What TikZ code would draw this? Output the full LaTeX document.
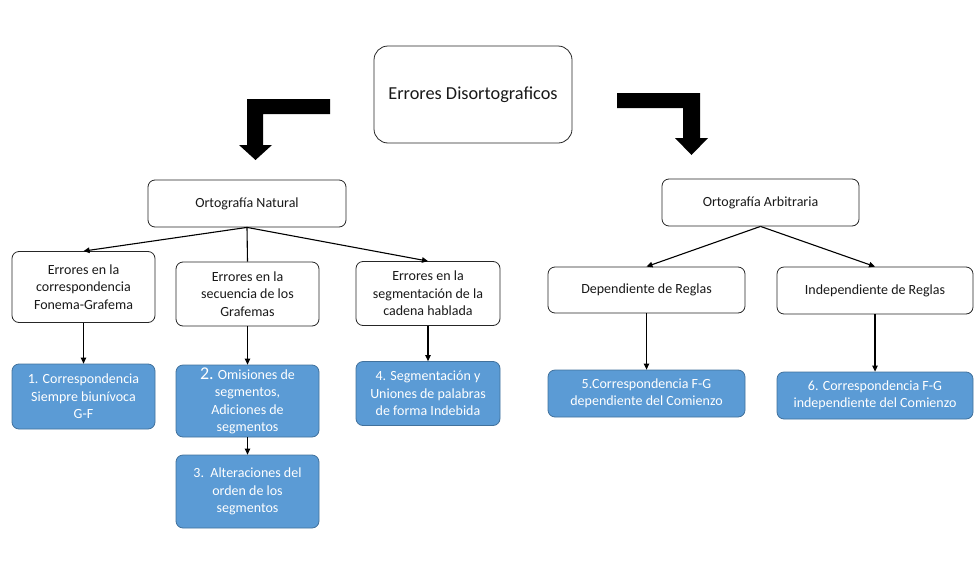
\documentclass[tikz,border=0pt]{standalone}
\usepackage{fontspec}
\setmainfont{Carlito}
\usetikzlibrary{arrows.meta}
\definecolor{boxblue}{HTML}{5B9BD5}
\definecolor{boxbord}{HTML}{41719C}
\tikzset{
  wbox/.style={draw=black!85, line width=0.8pt, fill=white, rounded corners=7pt, align=center, inner sep=2pt,
     font=\fontsize{14}{17.5}\selectfont, text=black!90},
  bbox/.style={draw=boxbord, line width=0.8pt, fill=boxblue, rounded corners=7pt, align=center, inner sep=2pt,
     font=\fontsize{14}{17.5}\selectfont, text=white},
  conn/.style={line width=1.1pt, -{Triangle[length=6pt,width=5.5pt]}},
  plain/.style={line width=1.1pt},
  bigarrow/.style={fill=black, draw=none}
}
\begin{document}
\begin{tikzpicture}[x=1pt,y=-1pt]
\useasboundingbox (0,0) rectangle (974,565);
% top
\node[wbox, rounded corners=14pt, minimum width=198pt, minimum height=97pt, font=\fontsize{18.3}{20}\selectfont] (top) at (473,94.5) {Errores Disortograficos};
% big bent arrows
\fill[bigarrow] (330,99) -- (247,99) -- (247,145) -- (239,145) -- (255.5,160) -- (272,145) -- (263,145) -- (263,114) -- (330,114) -- cycle;
\fill[bigarrow] (617,93) -- (700,93) -- (700,138) -- (708,138) -- (691.5,155) -- (675,138) -- (683,138) -- (683,108) -- (617,108) -- cycle;
% level 1
\node[wbox, minimum width=198pt, minimum height=47pt] (nat) at (247,203.5) {Ortografía Natural};
\node[wbox, minimum width=197pt, minimum height=47pt] (arb) at (760.5,202.5) {Ortografía Arbitraria};
% level 2 left
\node[wbox, minimum width=143pt, minimum height=71pt] (a) at (83.5,287) {Errores en la\\correspondencia\\Fonema-Grafema};
\node[wbox, minimum width=143pt, minimum height=64pt] (b) at (247.5,294) {Errores en la\\secuencia de los\\Grafemas};
\node[wbox, minimum width=144pt, minimum height=64pt] (c) at (428,293.5) {Errores en la\\segmentación de la\\cadena hablada};
% level 2 right
\node[wbox, minimum width=197pt, minimum height=46pt] (dep) at (646.5,290) {Dependiente de Reglas};
\node[wbox, minimum width=196pt, minimum height=47pt] (ind) at (875,290.5) {Independiente de Reglas};
% blue
\node[bbox, minimum width=143pt, minimum height=65pt] (b1) at (83.5,396.5) {1. Correspondencia\\Siempre biunívoca\\G-F};
\node[bbox, minimum width=143pt, minimum height=72pt] (b2) at (247.5,401) {{\fontsize{18}{17}\selectfont 2.} Omisiones de\\segmentos,\\Adiciones de\\segmentos};
\node[bbox, minimum width=143pt, minimum height=73pt] (b3) at (247.5,491.5) {3.\ \ Alteraciones del\\orden de los\\segmentos};
\node[bbox, minimum width=144pt, minimum height=64pt] (b4) at (428,393.5) {4. Segmentación y\\Uniones de palabras\\de forma Indebida};
\node[bbox, minimum width=197pt, minimum height=47pt] (b5) at (646.5,393.5) {5.Correspondencia F-G\\dependiente del Comienzo};
\node[bbox, minimum width=196pt, minimum height=47pt] (b6) at (875,395.5) {6. Correspondencia F-G\\independiente del Comienzo};
% connectors
\draw[conn] (nat.south) -- (a.north);
\draw[plain] (nat.south) -- (b.north);
\draw[conn] (nat.south) -- (c.north);
\draw[conn] (a.south) -- (b1.north);
\draw[conn] (b.south) -- (b2.north);
\draw[conn] (b2.south) -- (b3.north);
\draw[conn] (c.south) -- (b4.north);
\draw[conn] (arb.south) -- (dep.north);
\draw[conn] (arb.south) -- (ind.north);
\draw[conn] (dep.south) -- (b5.north);
\draw[conn] (ind.south) -- (b6.north);
\end{tikzpicture}
\end{document}
